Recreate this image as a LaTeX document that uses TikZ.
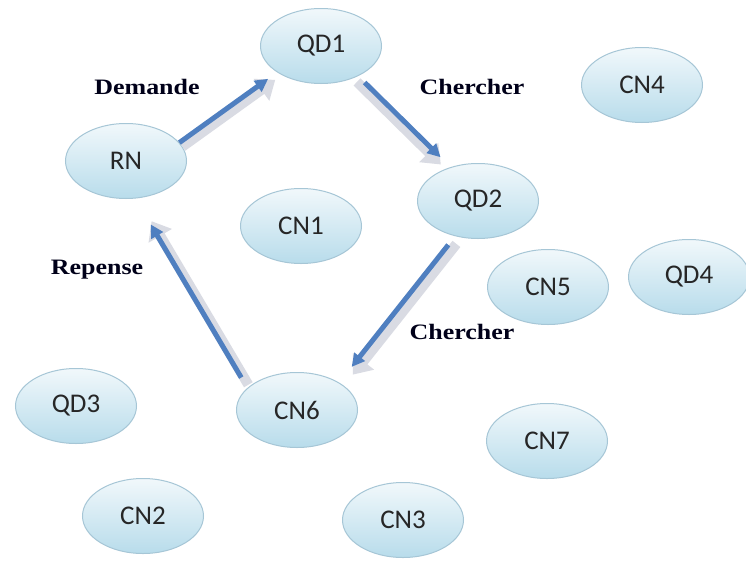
\documentclass[tikz,border=0pt]{standalone}
\usepackage{fontspec}
\setmainfont{Carlito}
\newfontfamily\labfont[FakeStretch=1.18]{Liberation Serif}
\usetikzlibrary{shapes.geometric,arrows.meta}
\definecolor{ntop}{HTML}{F1F8FB}
\definecolor{nbot}{HTML}{B8DCEB}
\definecolor{nedge}{HTML}{A6C6D6}
\definecolor{arrblue}{HTML}{4F7FC0}
\definecolor{arrshade}{HTML}{D9DBE3}
\begin{document}
\begin{tikzpicture}[x=1pt,y=-1pt,
  netnode/.style={ellipse, draw=nedge, line width=1pt, top color=ntop, bottom color=nbot,
    minimum width=121pt, minimum height=75pt, inner sep=0pt,
    font=\fontsize{27}{30}\selectfont, text=black!85},
  lab/.style={font=\labfont\bfseries\fontsize{22}{24}\selectfont, text=black!90!blue},
  shadowarrow/.style={line width=10pt, draw=arrshade, -{Triangle[width=26pt,length=17pt]}},
  bluearrow/.style={line width=5pt, draw=arrblue, -{Triangle[width=13pt,length=13pt]}}]
\useasboundingbox[fill=white] (0,0) rectangle (746,562);

\node[netnode] (QD1) at (321,46) {QD1};
\node[netnode] (RN)  at (126,161) {RN};
\node[netnode] (CN4) at (642,85) {CN4};
\node[netnode] (QD2) at (478,201) {QD2};
\node[netnode] (CN1) at (301,226) {CN1};
\node[netnode] (CN5) at (548,287) {CN5};
\node[netnode] (QD4) at (689,277) {QD4};
\node[netnode] (CN6) at (297,410) {CN6};
\node[netnode] (QD3) at (76,406) {QD3};
\node[netnode] (CN7) at (547,441) {CN7};
\node[netnode] (CN2) at (143,516) {CN2};
\node[netnode] (CN3) at (403,520) {CN3};

\node[lab] (ldem) at (147,87) {Demande};
\node[lab] (lch1) at (472,87) {Chercher};
\node[lab] (lrep) at (97,270) {Repense};
\node[lab] (lch2) at (462,332) {Chercher};

% Demande
\draw[shadowarrow, transform canvas={shift={(3pt,-4pt)}}, shorten >=6pt] (RN.19) -- (QD1.211);
\draw[bluearrow, shorten >=11pt] (RN.19) -- (QD1.211);
% Chercher (top)
\draw[shadowarrow, transform canvas={shift={(-4pt,-3pt)}}, shorten <=4pt, shorten >=8pt] (QD1.-39) -- (QD2.129);
\draw[bluearrow, shorten <=9pt, shorten >=14pt] (QD1.-39) -- (QD2.129);
% Chercher (bottom)
\draw[shadowarrow, transform canvas={shift={(5pt,-3pt)}}, shorten <=6pt, shorten >=14pt] (QD2.237) -- (CN6.33);
\draw[bluearrow, shorten <=11pt, shorten >=20pt] (QD2.237) -- (CN6.33);
% Repense
\draw[shadowarrow, transform canvas={shift={(4pt,-2pt)}}, shorten <=6pt, shorten >=24pt] (CN6.156) -- (RN.-76);
\draw[bluearrow, shorten <=12pt, shorten >=30pt] (CN6.156) -- (RN.-76);
\end{tikzpicture}
\end{document}
